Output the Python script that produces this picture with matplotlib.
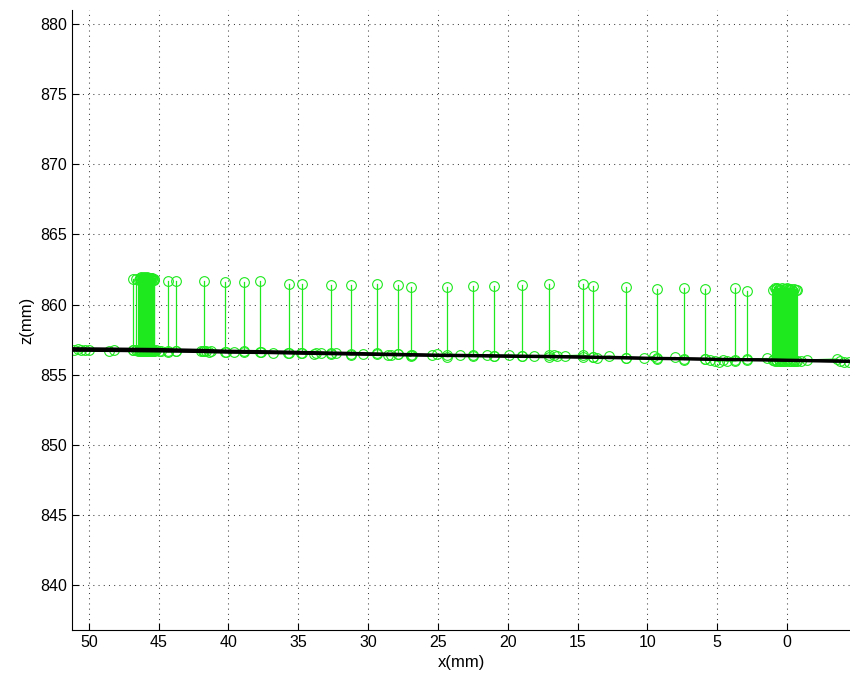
import matplotlib
matplotlib.use("Agg")
import matplotlib.pyplot as plt

plt.rcParams['font.family'] = ['Liberation Sans', 'DejaVu Sans']

# Profile scans (black): x positions and three overlapping passes
scan_x = [51.2, 48, 45, 42, 40, 37, 35, 32, 30, 27, 25, 22, 20, 17, 15, 12, 10, 7, 5, 2, 0, -2, -4.5]
scan_z1 = [856.88, 856.85, 856.82, 856.76, 856.70, 856.66, 856.62, 856.56, 856.52, 856.46, 856.42, 856.39,
           856.36, 856.33, 856.30, 856.25, 856.20, 856.16, 856.12, 856.09, 856.06, 856.03, 855.99]
scan_z2 = [856.80, 856.77, 856.74, 856.69, 856.64, 856.60, 856.56, 856.51, 856.47, 856.42, 856.38, 856.35,
           856.32, 856.29, 856.26, 856.21, 856.17, 856.13, 856.09, 856.06, 856.03, 856.00, 855.96]
scan_z3 = [856.72, 856.70, 856.67, 856.63, 856.58, 856.55, 856.51, 856.46, 856.43, 856.38, 856.35, 856.32,
           856.29, 856.26, 856.23, 856.18, 856.14, 856.10, 856.06, 856.03, 856.00, 855.96, 855.92]

# Surface hits (green circles)
surf_x = [51.04, 50.8, 50.54, 50.3, 49.96, 48.54, 48.18, 46.82, 46.46, 46.0, 45.8, 45.6, 45.4, 45.2, 45.0,
          44.81, 44.31, 43.74, 41.96, 41.8, 41.6, 41.4, 41.24, 40.17, 39.6, 38.89, 37.67, 36.81, 35.74,
          34.81, 33.88, 33.74, 33.38, 32.67, 32.31, 31.24, 30.40, 29.38, 28.61, 28.38, 27.86, 26.95,
          26.83, 25.40, 25.04, 24.32, 23.42, 22.47, 21.47, 20.99, 19.92, 18.96, 18.13, 17.06, 16.70,
          16.46, 15.94, 14.60, 13.92, 13.60, 12.72, 11.53, 10.27, 9.56, 9.31, 8.01, 7.36, 5.91, 5.5,
          5.2, 4.9, 4.6, 4.3, 3.72, 2.84, 1.45, 1.0, 0.5, 0.0, -0.5, -1.0, -1.41, -3.55, -3.8, -4.1, -4.4]
surf_z = [856.78, 856.80, 856.76, 856.79, 856.74, 856.70, 856.74, 856.76, 856.72, 856.68, 856.75, 856.70,
          856.66, 856.74, 856.70, 856.68, 856.62, 856.66, 856.70, 856.66, 856.72, 856.65, 856.70, 856.62,
          856.60, 856.66, 856.60, 856.52, 856.55, 856.58, 856.48, 856.52, 856.56, 856.46, 856.58, 856.40,
          856.50, 856.52, 856.38, 856.44, 856.46, 856.30, 856.42, 856.40, 856.46, 856.28, 856.42, 856.30,
          856.40, 856.32, 856.42, 856.35, 856.30, 856.38, 856.44, 856.32, 856.36, 856.40, 856.24, 856.22,
          856.34, 856.20, 856.18, 856.30, 856.12, 856.24, 856.08, 856.12, 856.05, 856.00, 855.94, 856.02,
          855.96, 855.98, 856.10, 856.16, 856.05, 855.98, 856.02, 855.95, 856.00, 856.06, 856.12, 855.98,
          855.94, 855.92]

# Spurious returns (green stems from surface up to the outlier)
spike_x = [46.84, 46.60, 46.40, 46.35, 46.30, 46.25, 46.20, 46.15, 46.10, 46.05, 46.00, 45.95, 45.90,
           45.85, 45.80, 45.75, 45.70, 45.65, 45.60, 45.55, 45.50, 45.45, 45.40, 45.35, 45.30,
           44.34, 43.75, 41.75, 40.25, 38.88, 37.74,
           35.69, 34.76, 32.67, 31.24, 29.38, 27.86, 26.95, 24.32, 22.47, 20.99, 18.96, 17.06, 14.60,
           13.92, 11.53, 9.31, 7.36, 5.91, 3.72, 2.84, 1.00, 0.90, 0.80, 0.70, 0.60, 0.50, 0.40, 0.30,
           0.20, 0.10, 0.00, -0.10, -0.20, -0.30, -0.40, -0.50, -0.60, -0.70]
spike_top = [861.85, 861.80, 861.72, 861.90, 861.85, 861.95, 861.80, 861.92, 861.85, 861.98, 861.82,
             861.90, 861.85, 861.95, 861.80, 861.90, 861.82, 861.92, 861.85, 861.88, 861.80, 861.90,
             861.78, 861.85, 861.75,
             861.65, 861.65, 861.70, 861.60, 861.60, 861.65,
             861.50, 861.50, 861.40, 861.40, 861.50, 861.40, 861.25, 861.25, 861.30, 861.30, 861.40,
             861.50, 861.50, 861.30, 861.28, 861.10, 861.15, 861.10, 861.15, 861.00, 861.05, 861.15,
             861.10, 861.20, 861.12, 861.05, 861.15, 861.00, 861.10, 861.08, 861.18, 861.12, 861.05,
             861.10, 861.00, 861.08, 861.02, 861.05]
spike_base = [856.75, 856.74, 856.73, 856.70, 856.76, 856.72, 856.68, 856.74, 856.70, 856.66, 856.75,
              856.71, 856.67, 856.74, 856.70, 856.68, 856.73, 856.69, 856.66, 856.72, 856.70, 856.67,
              856.74, 856.69, 856.72,
              856.71, 856.70, 856.67, 856.64, 856.62, 856.60,
              856.57, 856.56, 856.53, 856.50, 856.48, 856.45, 856.44, 856.40, 856.37, 856.35, 856.31,
              856.28, 856.25, 856.24, 856.20, 856.16, 856.13, 856.11, 856.08, 856.06, 856.05, 855.98,
              856.03, 855.96, 856.02, 855.97, 856.04, 855.95, 856.01, 855.96, 856.03, 855.97, 856.00,
              855.95, 856.02, 855.98, 856.00, 855.96]

x_ticks = [50, 45, 40, 35, 30, 25, 20, 15, 10, 5, 0]
z_ticks = [840, 845, 850, 855, 860, 865, 870, 875, 880]

green = '#1ee81e'
fig = plt.figure(figsize=(8.5, 6.8), dpi=100)
ax = fig.add_axes([72 / 850, 50 / 680, 778 / 850, 620 / 680])

ax.plot(surf_x, surf_z, color=green, lw=0.8, marker='o', ms=7, mfc='none', mec=green, mew=0.8, zorder=2)
for i, (sx, sb, st) in enumerate(zip(spike_x, spike_base, spike_top)):
    # densely packed stems are drawn a little wider so they merge into a solid band
    gaps = [abs(sx - ox) for j, ox in enumerate(spike_x) if j != i]
    lw = 1.6 if min(gaps) < 0.15 else 0.9
    ax.plot([sx, sx], [sb, st], color=green, lw=lw, marker='o', ms=7, mfc='none', mec=green,
            mew=0.8, zorder=2)

for z in (scan_z1, scan_z2, scan_z3):
    ax.plot(scan_x, z, color='black', lw=1.8, zorder=3)

ax.set_xlim(51.2, -4.5)
ax.set_ylim(836.8, 881.0)
ax.set_xticks(x_ticks)
ax.set_yticks(z_ticks)
ax.grid(True, color='#404040', linestyle=(0, (1, 4)), linewidth=0.75)
ax.tick_params(direction='in', length=5, width=0.8, labelsize=11.5, top=False, right=False)
ax.spines['top'].set_visible(False)
ax.spines['right'].set_visible(False)
ax.set_xlabel('x(mm)', fontsize=12, labelpad=4)
ax.set_ylabel('z(mm)', fontsize=12, labelpad=4)

fig.savefig('out.png', dpi=100)
